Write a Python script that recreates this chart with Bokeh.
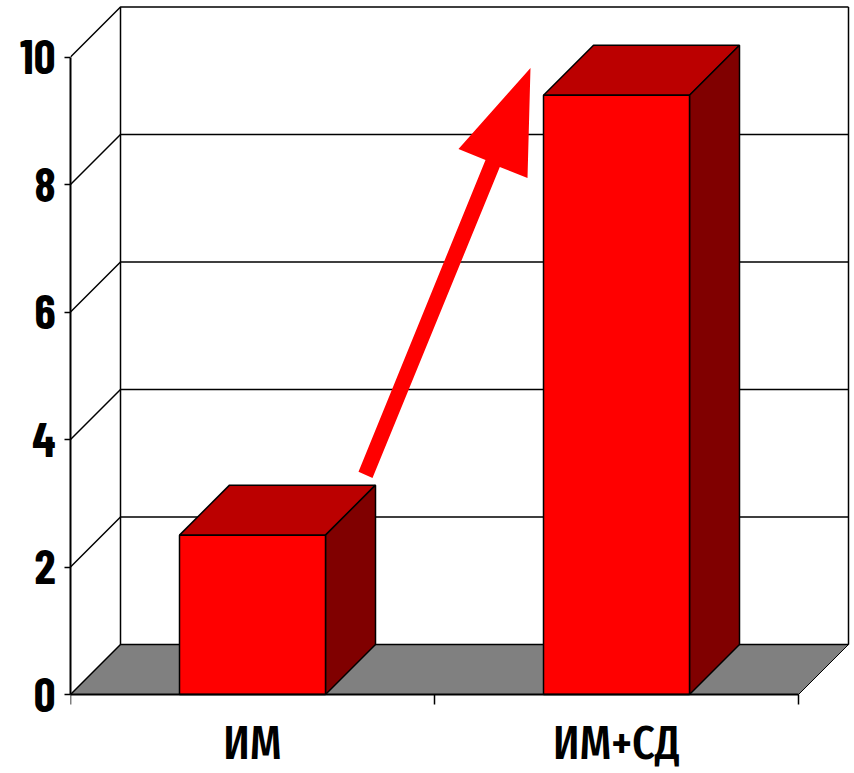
from bokeh.embed import file_html
from bokeh.models import FixedTicker, Range1d
from bokeh.plotting import figure
from bokeh.resources import INLINE

categories = ["ИМ", "ИМ+СД"]
values = [2.5, 9.4]
y_ticks = [0, 2, 4, 6, 8, 10]

RED_FRONT = "#ff0000"
RED_TOP = "#bb0000"
RED_SIDE = "#800000"
FLOOR = "#808080"
INK = "#000000"

# Plot scale: pixels per category band and per value unit
BAND_PX = 364
UNIT_PX = 63.75
LEFT_PX = 70
BOTTOM_PX = 79
WIDTH = 854
HEIGHT = 773

# Oblique depth of the 3D box, in data units
DX = 50 / BAND_PX
DY = 50 / UNIT_PX
BAR_W = 146 / BAND_PX
N = len(categories)
Y_MAX = y_ticks[-1]

# The frame runs to the page's lower edge; the value zero sits above it so that
# the category names have room under the bottom axis.
p = figure(
    width=WIDTH,
    height=HEIGHT,
    output_backend="svg",
    toolbar_location=None,
    min_border_left=LEFT_PX,
    min_border_right=0,
    min_border_top=0,
    min_border_bottom=0,
    x_range=Range1d(0, (WIDTH - LEFT_PX) / BAND_PX),
    y_range=Range1d(-BOTTOM_PX / UNIT_PX, (HEIGHT - BOTTOM_PX) / UNIT_PX),
    outline_line_color=None,
)
p.grid.visible = False
p.background_fill_color = "white"
p.border_fill_color = "white"

# Floor
p.patch([0, DX, N + DX, N], [0, DY, DY, 0], fill_color=FLOOR, line_color=INK, line_width=1)

# Walls and gridlines
for v in y_ticks:
    p.line([0, DX, N + DX], [v, v + DY, v + DY], line_color=INK, line_width=1.5)
p.line([DX, DX], [DY, Y_MAX + DY], line_color=INK, line_width=1.5)
p.line([N + DX, N + DX], [DY, Y_MAX + DY], line_color=INK, line_width=1.5)

# Boxes: top, side, front
for i, val in enumerate(values):
    x0 = i + 0.5 - BAR_W / 2
    x1 = i + 0.5 + BAR_W / 2
    p.patch([x0, x0 + DX, x1 + DX, x1], [val, val + DY, val + DY, val],
            fill_color=RED_TOP, line_color=INK, line_width=1.5)
    p.patch([x1, x1 + DX, x1 + DX, x1], [0, DY, val + DY, val],
            fill_color=RED_SIDE, line_color=INK, line_width=1.5)
    p.patch([x0, x1, x1, x0], [0, 0, val, val],
            fill_color=RED_FRONT, line_color=INK, line_width=1.5)

# Rising arrow between the two boxes
arrow_x = [0.7912, 1.1401, 1.0659, 1.2637, 1.2555, 1.1794, 0.8297]
arrow_y = [3.495, 8.384, 8.557, 9.827, 8.102, 8.275, 3.396]
p.patch(arrow_x, arrow_y, fill_color=RED_FRONT, line_color=None)

# Axes
yax = p.yaxis[0]
yax.ticker = FixedTicker(ticks=y_ticks)
yax.bounds = (0, Y_MAX)
yax.minor_tick_line_color = None
yax.major_tick_out = 6
yax.major_tick_in = 0
yax.major_tick_line_width = 1.5
yax.major_tick_line_color = INK
yax.axis_line_width = 2
yax.axis_line_color = INK
yax.major_label_text_font = "Barlow Condensed"
yax.major_label_text_font_style = "bold"
yax.major_label_text_font_size = "48px"
yax.major_label_text_color = INK
yax.major_label_standoff = 9

# Names sit at band centres, tick marks at band edges
xax = p.xaxis[0]
xax.fixed_location = 0
xax.ticker = FixedTicker(ticks=[i + 0.5 for i in range(N)], minor_ticks=list(range(N + 1)))
xax.major_label_overrides = {i + 0.5: c for i, c in enumerate(categories)}
xax.bounds = (0, N)
xax.major_tick_line_color = None
xax.minor_tick_out = 10
xax.minor_tick_in = 0
xax.minor_tick_line_width = 1.5
xax.minor_tick_line_color = INK
xax.axis_line_width = 2
xax.axis_line_color = INK
xax.major_label_text_font = "Fira Sans Extra Condensed Medium"
xax.major_label_text_font_size = "48px"
xax.major_label_text_color = INK
xax.major_label_standoff = 9

open("out.html", "w").write(file_html(p, INLINE))
